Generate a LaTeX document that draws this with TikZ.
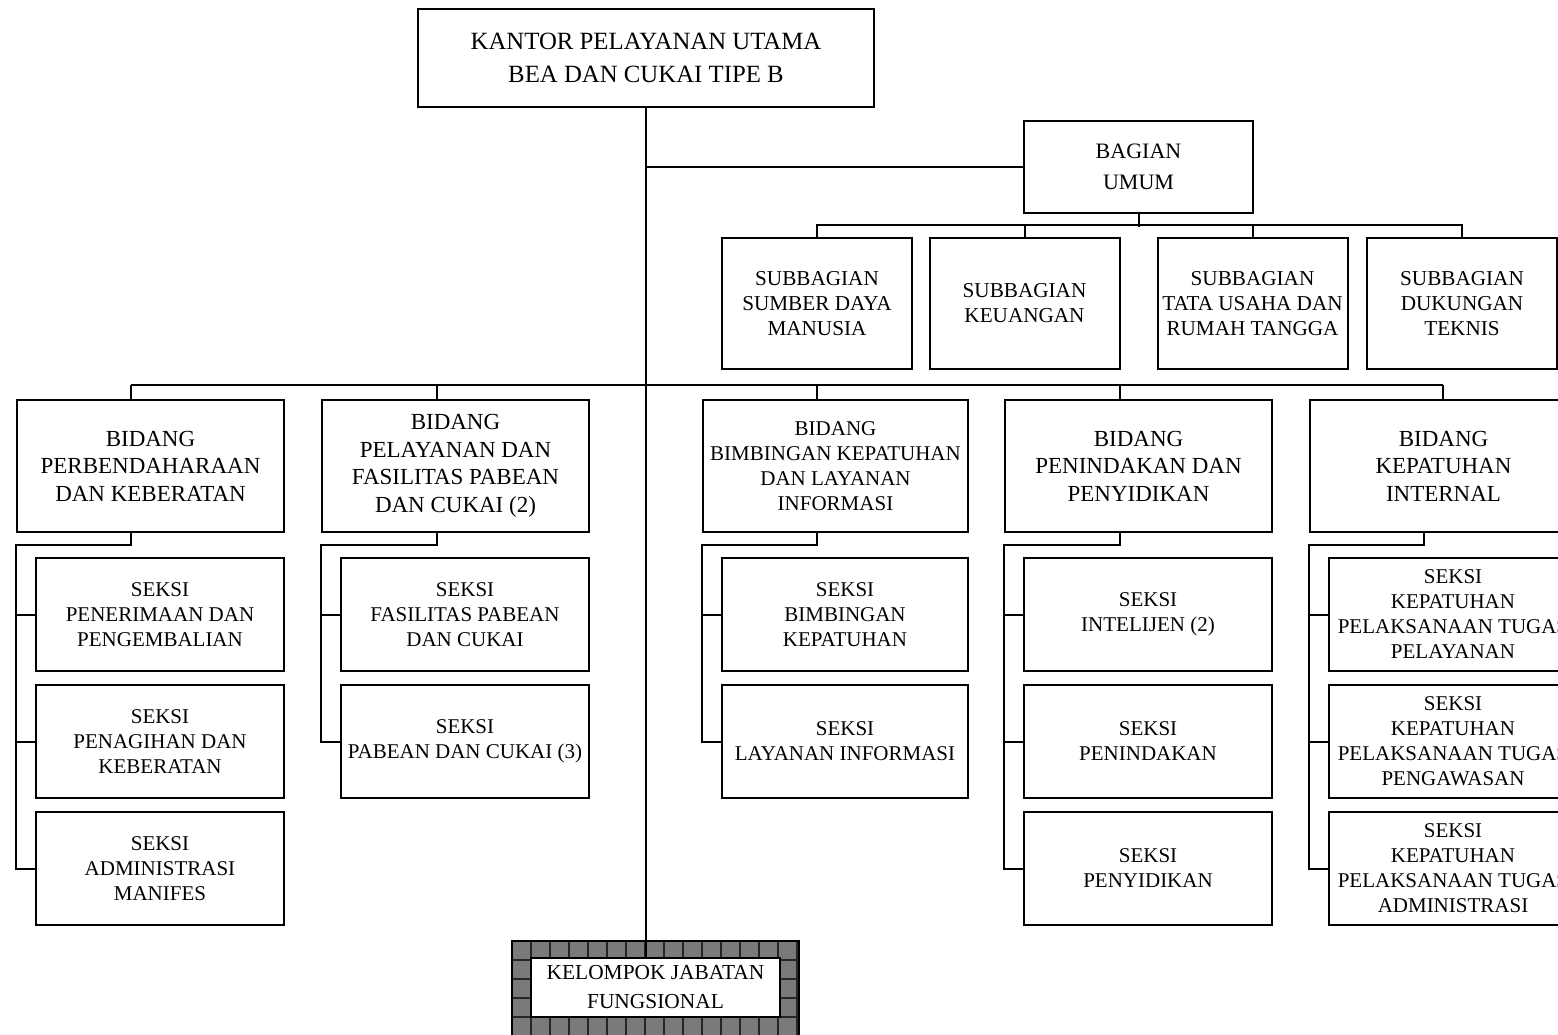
\documentclass[tikz,border=0pt]{standalone}
\usepackage{fontspec}
\setmainfont{Liberation Serif}
\usetikzlibrary{positioning}
\tikzset{
  unit/.style={draw, line width=1pt, align=center, inner sep=0pt, fill=white},
  kantor/.style={unit, minimum width=228pt, minimum height=49pt, font=\fontsize{12.4}{16.5}\selectfont},
  bagian/.style={unit, minimum width=114.5pt, minimum height=46pt, font=\fontsize{11}{15.5}\selectfont},
  subbag/.style={unit, minimum width=95pt, minimum height=65.5pt, font=\fontsize{10.6}{12.5}\selectfont},
  bidang/.style={unit, minimum width=133.5pt, minimum height=66pt, font=\fontsize{11.5}{13.75}\selectfont},
  seksi/.style={unit, minimum width=124pt, minimum height=56.5pt, font=\fontsize{10.5}{12.5}\selectfont},
  link/.style={line width=1pt},
  brick/.style={black!85, line width=0.8pt}
}

\begin{document}
\begin{tikzpicture}[x=0.5pt,y=-0.5pt]
  \useasboundingbox (0,0) rectangle (1558,1034);
  \clip (0,0) rectangle (1558,1034);

  \node[kantor] (top) at (646,58) {KANTOR PELAYANAN UTAMA\\BEA DAN CUKAI TIPE B};
  \node[bagian] (bagian) at (1138.5,167) {BAGIAN\\UMUM};

  \node[subbag] (sb1) at (817,303.5) {SUBBAGIAN\\SUMBER DAYA\\MANUSIA};
  \node[subbag] (sb2) at (1024.5,303.5) {SUBBAGIAN\\KEUANGAN};
  \node[subbag] (sb3) at (1252.5,303.5) {SUBBAGIAN\\TATA USAHA DAN\\RUMAH TANGGA};
  \node[subbag] (sb4) at (1462,303.5) {SUBBAGIAN\\DUKUNGAN\\TEKNIS};

  \node[bidang] (bd1) at (150.5,466) {BIDANG\\PERBENDAHARAAN\\DAN KEBERATAN};
  \node[bidang] (bd2) at (455.5,466) {BIDANG\\PELAYANAN DAN\\FASILITAS PABEAN\\DAN CUKAI (2)};
  \node[bidang, minimum width=132.5pt, font=\fontsize{10.5}{12.5}\selectfont] (bd3) at (835.5,466) {BIDANG\\BIMBINGAN KEPATUHAN\\DAN LAYANAN\\INFORMASI};
  \node[bidang] (bd4) at (1138.5,466) {BIDANG\\PENINDAKAN DAN\\PENYIDIKAN};
  \node[bidang] (bd5) at (1443.5,466) {BIDANG\\KEPATUHAN\\INTERNAL};

  % seksi per bidang
  \node[seksi] (s11) at (160,614.5) {SEKSI\\PENERIMAAN DAN\\PENGEMBALIAN};
  \node[seksi] (s12) at (160,741.5) {SEKSI\\PENAGIHAN DAN\\KEBERATAN};
  \node[seksi] (s13) at (160,868.5) {SEKSI\\ADMINISTRASI\\MANIFES};
  \node[seksi] (s21) at (465,614.5) {SEKSI\\FASILITAS PABEAN\\DAN CUKAI};
  \node[seksi] (s22) at (465,741.5) {SEKSI\\PABEAN DAN CUKAI (3)};
  \node[seksi, minimum width=123pt] (s31) at (845,614.5) {SEKSI\\BIMBINGAN\\KEPATUHAN};
  \node[seksi, minimum width=123pt] (s32) at (845,741.5) {SEKSI\\LAYANAN INFORMASI};
  \node[seksi] (s41) at (1148,614.5) {SEKSI\\INTELIJEN (2)};
  \node[seksi] (s42) at (1148,741.5) {SEKSI\\PENINDAKAN};
  \node[seksi] (s43) at (1148,868.5) {SEKSI\\PENYIDIKAN};
  \node[seksi] (s51) at (1453,614.5) {SEKSI\\KEPATUHAN\\PELAKSANAAN TUGAS\\PELAYANAN};
  \node[seksi] (s52) at (1453,741.5) {SEKSI\\KEPATUHAN\\PELAKSANAAN TUGAS\\PENGAWASAN};
  \node[seksi] (s53) at (1453,868.5) {SEKSI\\KEPATUHAN\\PELAKSANAAN TUGAS\\ADMINISTRASI};

  % bingkai kelompok jabatan
  \fill[gray!70!black!80] (512,941) rectangle (799,1045);
  \foreach \x in {531,550,...,799} \draw[brick] (\x,941) -- (\x,1045);
  \foreach \y in {960,979,...,1045} \draw[brick] (512,\y) -- (799,\y);
  \draw[line width=1pt] (512,941) rectangle (799,1045);
  \node[unit, minimum width=124.5pt, minimum height=29.5pt, font=\fontsize{10.7}{14.5}\selectfont] (kjf) at (655.5,987.5) {KELOMPOK JABATAN\\FUNGSIONAL};

  % garis
  \draw[link] (top.south) -- (top.south |- kjf.north);
  \draw[link] (top.south |- bagian.west) -- (bagian.west);
  \draw[link] (bagian.south) -- ++(0,13);
  \draw[link] (sb1.north) -- ++(0,-12) -| (sb4.north);
  \draw[link] (sb2.north) -- ++(0,-12);
  \draw[link] (sb3.north) -- ++(0,-12);

  \coordinate (d1) at (131,385);  \coordinate (e1) at (131,545);
  \coordinate (d2) at (437,385);  \coordinate (e2) at (437,545);
  \coordinate (d3) at (817,385);  \coordinate (e3) at (817,545);
  \coordinate (d4) at (1120,385); \coordinate (e4) at (1120,545);
  \coordinate (d5) at (1443,385); \coordinate (e5) at (1424,545);
  \draw[link] (d1) -- (d5);
  \foreach \i/\n in {1/3,2/2,3/2,4/3,5/3} {
    \draw[link] (d\i) -- (d\i |- bd\i.north);
    \draw[link] (e\i |- bd\i.south) -- (e\i) -| (bd\i.west |- s\i\n.west) -- (s\i\n.west);
    \foreach \j in {1,...,\n} \draw[link] (bd\i.west |- s\i\j.west) -- (s\i\j.west);
  }
\end{tikzpicture}
\end{document}
